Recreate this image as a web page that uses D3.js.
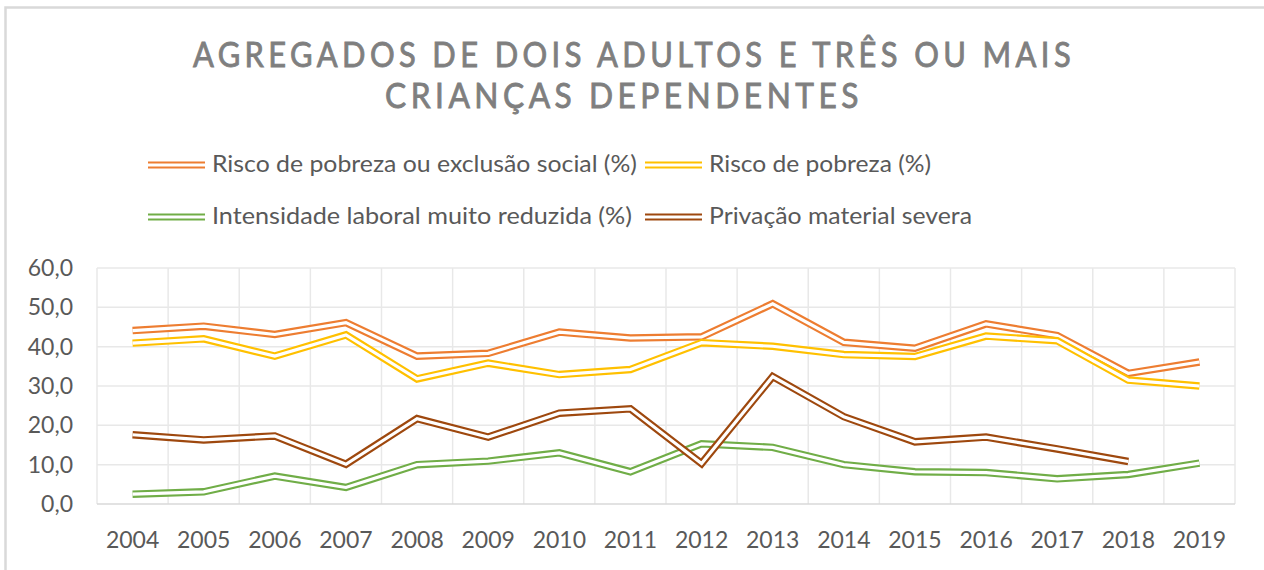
<!DOCTYPE html>
<html>
<head>
<meta charset="utf-8">
<script src="https://cdn.jsdelivr.net/npm/d3@7"></script>
<style>
  html, body { margin: 0; padding: 0; background: #fff; }
  svg { display: block; }
</style>
</head>
<body>
<svg id="chart" width="1264" height="570"></svg>
<script>
// ---- Data ----
const years = ["2004","2005","2006","2007","2008","2009","2010","2011","2012","2013","2014","2015","2016","2017","2018","2019"];
const riscoPobrezaExclusao = [44.1, 45.2, 43.1, 46.1, 37.6, 38.3, 43.7, 42.2, 42.5, 50.9, 41.1, 39.6, 45.8, 42.8, 33.2, 36.1];
const riscoPobreza = [40.9, 42.0, 37.6, 43.0, 31.8, 35.8, 32.9, 34.2, 41.0, 40.1, 38.0, 37.5, 42.7, 41.5, 31.5, 30.0];
const intensidadeLaboral = [2.5, 3.1, 7.1, 4.2, 10.0, 10.9, 13.0, 8.2, 15.3, 14.4, 10.0, 8.2, 8.0, 6.4, 7.5, 10.4];
const privacaoMaterial = [17.6, 16.3, 17.3, 10.1, 21.7, 17.0, 23.1, 24.2, 10.3, 32.4, 22.2, 15.8, 17.0, 14.0, 10.8, null];
const seriesNames = ["Risco de pobreza ou exclusão social (%)", "Risco de pobreza (%)", "Intensidade laboral muito reduzida (%)", "Privação material severa"];
const yTicks = [0, 10, 20, 30, 40, 50, 60];
const titleLines = ["AGREGADOS DE DOIS ADULTOS E TRÊS OU MAIS", "CRIANÇAS DEPENDENTES"];

const series = [
  { name: seriesNames[0], values: riscoPobrezaExclusao, color: "#ED7D31" },
  { name: seriesNames[1], values: riscoPobreza, color: "#FFC000" },
  { name: seriesNames[2], values: intensidadeLaboral, color: "#70AD47" },
  { name: seriesNames[3], values: privacaoMaterial, color: "#9E480E" }
];

// ---- Layout ----
const svg = d3.select("#chart");
const font = "Lato, 'Open Sans', sans-serif";
const plot = { left: 97, right: 1235, top: 268, bottom: 504 };

// outer frame
svg.append("path")
  .attr("d", `M5.5,570 L5.5,7.5 L1264,7.5`)
  .attr("fill", "none").attr("stroke", "#d9d9d9").attr("stroke-width", 2.5);

// title
const title = svg.append("g");
const titleWidths = [882, 478];
const titleX = [634, 624];
titleLines.forEach((t, i) => {
  title.append("text")
    .attr("x", titleX[i]).attr("y", 67 + i * 41)
    .attr("text-anchor", "middle")
    .attr("font-family", font).attr("font-size", 35).attr("font-weight", 400)
    .attr("letter-spacing", 5)
    .attr("fill", "#7f7f7f")
    .attr("stroke", "#7f7f7f").attr("stroke-width", 0.9)
    .attr("textLength", titleWidths[i])
    .attr("lengthAdjust", "spacingAndGlyphs")
    .text(t);
});

// scales
const x = d3.scaleBand().domain(years).range([plot.left, plot.right]);
const y = d3.scaleLinear().domain([0, 60]).range([plot.bottom, plot.top]);
const cx = d => x(d) + x.bandwidth() / 2;

// gridlines
const grid = svg.append("g");
grid.selectAll("line.h").data(yTicks.filter(d => d > 0)).join("line")
  .attr("x1", plot.left).attr("x2", plot.right)
  .attr("y1", d => y(d)).attr("y2", d => y(d))
  .attr("stroke", "#e8e8e8").attr("stroke-width", 1.5);
grid.selectAll("line.v").data(years.map(d => x(d)).concat([plot.right])).join("line")
  .attr("x1", d => d).attr("x2", d => d)
  .attr("y1", plot.top).attr("y2", plot.bottom)
  .attr("stroke", "#e8e8e8").attr("stroke-width", 1.5);
grid.append("line")
  .attr("x1", plot.left).attr("x2", plot.right)
  .attr("y1", plot.bottom).attr("y2", plot.bottom)
  .attr("stroke", "#d9d9d9").attr("stroke-width", 1.5);

// axes
const yAxis = svg.append("g").attr("transform", `translate(${plot.left},0)`)
  .call(d3.axisLeft(y).tickValues(yTicks).tickSize(0).tickPadding(24)
    .tickFormat(d => d.toFixed(1).replace(".", ",")));
yAxis.select(".domain").remove();
yAxis.selectAll("text").attr("font-family", font).attr("font-size", 23).attr("fill", "#595959");

const xAxis = svg.append("g").attr("transform", `translate(0,${plot.bottom})`)
  .call(d3.axisBottom(x).tickSize(0));
xAxis.select(".domain").remove();
xAxis.selectAll("text").attr("font-family", font).attr("font-size", 23).attr("fill", "#595959")
  .attr("y", 44).attr("dy", 0);

// lines (double/compound style)
const line = d3.line()
  .defined(d => d.v !== null)
  .x(d => cx(d.year))
  .y(d => y(d.v));

const lines = svg.append("g");
series.forEach(s => {
  const pts = years.map((yr, i) => ({ year: yr, v: s.values[i] }));
  lines.append("path").datum(pts)
    .attr("d", line).attr("fill", "none")
    .attr("stroke", s.color).attr("stroke-width", 7.5).attr("stroke-linejoin", "miter");
  lines.append("path").datum(pts)
    .attr("d", line).attr("fill", "none")
    .attr("stroke", "#ffffff").attr("stroke-width", 3.2).attr("stroke-linejoin", "miter");
});

// legend
const legendPos = [
  { x: 148, y: 165, w: 425 },
  { x: 645, y: 165, w: 222 },
  { x: 148, y: 217, w: 420 },
  { x: 645, y: 217, w: 263 }
];
const legend = svg.append("g");
series.forEach((s, i) => {
  const p = legendPos[i];
  legend.append("line").attr("x1", p.x).attr("x2", p.x + 57).attr("y1", p.y).attr("y2", p.y)
    .attr("stroke", s.color).attr("stroke-width", 7);
  legend.append("line").attr("x1", p.x).attr("x2", p.x + 57).attr("y1", p.y).attr("y2", p.y)
    .attr("stroke", "#fff").attr("stroke-width", 3);
  legend.append("text").attr("x", p.x + 64).attr("y", p.y + 7)
    .attr("font-family", font).attr("font-size", 23).attr("fill", "#595959")
    .attr("textLength", p.w).attr("lengthAdjust", "spacingAndGlyphs")
    .text(s.name);
});
</script>
</body>
</html>
